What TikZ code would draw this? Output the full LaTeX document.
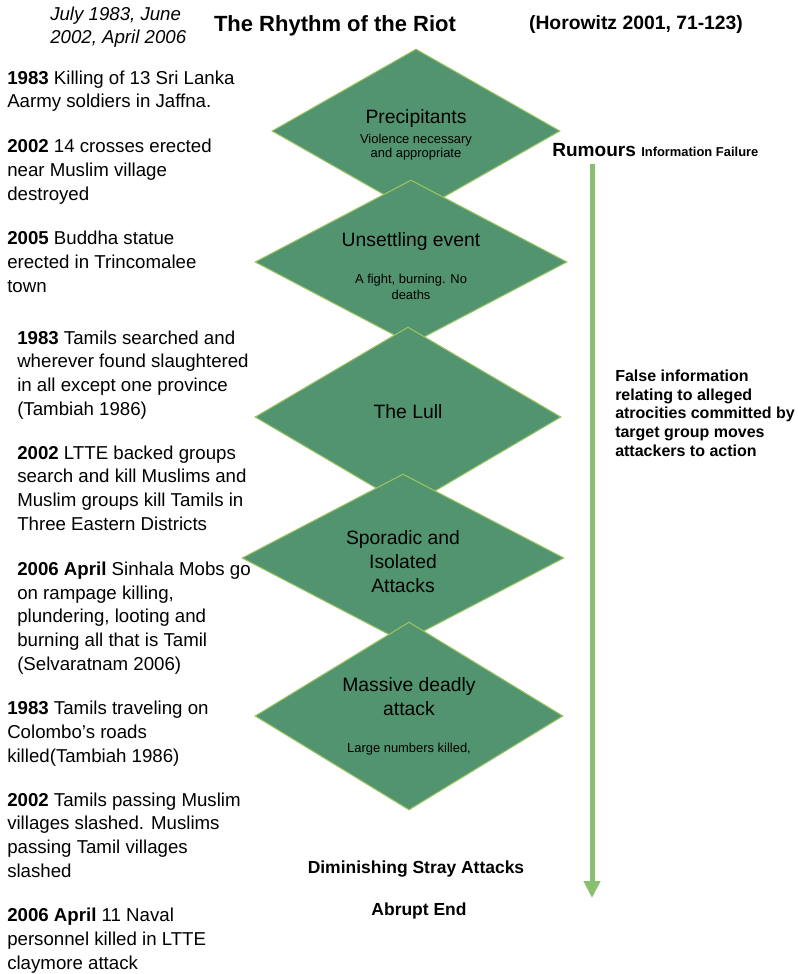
\documentclass[tikz,border=0pt]{standalone}
\usepackage{fontspec}
\setmainfont{Liberation Sans}
\usetikzlibrary{arrows.meta,shapes.geometric}
\definecolor{stagegreen}{RGB}{81,148,111}
\definecolor{stageedge}{RGB}{155,195,100}
\definecolor{flowgreen}{RGB}{137,192,112}
\newcommand{\smalltxt}{\fontsize{9.7}{11.5}\selectfont}
\newcommand{\toppad}{\rule{0pt}{16.5pt}}

\begin{document}
\begin{tikzpicture}[x=0.75pt,y=-0.75pt,
  stage/.style={diamond,draw=stageedge,line width=0.8pt,fill=stagegreen,inner sep=0pt,
    align=center,font=\fontsize{14.5}{18}\selectfont},
  event/.style={anchor=base west,align=left,inner sep=0pt,font=\fontsize{14}{17.7}\selectfont},
  note/.style={anchor=base,inner sep=0pt,font=\bfseries\fontsize{13.1}{15}\selectfont}]
  \useasboundingbox (0,0) rectangle (798,974);
  \node[event,font=\itshape\fontsize{14}{17.7}\selectfont] (dates) at (50,44) {July 1983, June\\2002, April 2006};
  \node[anchor=base,inner sep=0pt,font=\bfseries\fontsize{16.5}{20}\selectfont] (title) at (335,32) {The Rhythm of the Riot};
  \node[anchor=base,inner sep=0pt,font=\bfseries\fontsize{14.5}{18}\selectfont] (source) at (636,30) {(Horowitz 2001, 71-123)};

  \node[stage,aspect=1.76,minimum width=216pt,minimum height=123pt] (prec) at (416,131)
    {\toppad Precipitants\\[-3pt]{\smalltxt Violence necessary}\\[-7pt]{\smalltxt and appropriate}};
  \node[stage,aspect=1.9,minimum width=234pt,minimum height=123pt] (unsettle) at (411,262)
    {\toppad Unsettling event\\[10pt]{\smalltxt A fight, burning. No}\\[-6pt]{\smalltxt deaths}};
  \node[stage,aspect=1.7,minimum width=229.5pt,minimum height=135pt] (lull) at (408,417) {The Lull\rule[-9pt]{0pt}{0pt}};
  \node[stage,aspect=1.92,minimum width=241.5pt,minimum height=126pt] (sporadic) at (403,558)
    {\toppad Sporadic and\\Isolated\\Attacks};
  \node[stage,aspect=1.64,minimum width=231pt,minimum height=141pt] (massive) at (409,716)
    {Massive deadly\\attack\\[10pt]{\smalltxt Large numbers killed,}};

  \node[event] (ev1) at (7,108) {\textbf{1983} Killing of 13 Sri Lanka\\Aarmy soldiers in Jaffna.};
  \node[event] (ev2) at (7,200) {\textbf{2002} 14 crosses erected\\near Muslim village\\destroyed};
  \node[event] (ev3) at (7,292) {\textbf{2005} Buddha statue\\erected in Trincomalee\\town};
  \node[event] (ev4) at (17,415) {\textbf{1983} Tamils searched and\\wherever found slaughtered\\in all except one province\\(Tambiah 1986)};
  \node[event] (ev5) at (17,530) {\textbf{2002} LTTE backed groups\\search and kill Muslims and\\Muslim groups kill Tamils in\\Three Eastern Districts};
  \node[event] (ev6) at (17,670) {\textbf{2006 April} Sinhala Mobs go\\on rampage killing,\\plundering, looting and\\burning all that is Tamil\\(Selvaratnam 2006)};
  \node[event] (ev7) at (7,762) {\textbf{1983} Tamils traveling on\\Colombo’s roads\\killed(Tambiah 1986)};
  \node[event] (ev8) at (7,877) {\textbf{2002} Tamils passing Muslim\\villages slashed. Muslims\\passing Tamil villages\\slashed};
  \node[event] (ev9) at (7,969) {\textbf{2006 April} 11 Naval\\personnel killed in LTTE\\claymore attack};

  \node[anchor=base west,inner sep=0pt,font=\bfseries\fontsize{14.3}{17}\selectfont] (rumours) at (552,156)
    {Rumours {\fontsize{9.7}{11}\selectfont Information Failure}};
  \node[anchor=base west,align=left,inner sep=0pt,font=\bfseries\fontsize{12}{14}\selectfont] (falseinfo) at (615,456)
    {False information\\relating to alleged\\atrocities committed by\\target group moves\\attackers to action};
  \coordinate (flowtop) at (592,164);
  \coordinate (flowend) at (592,898);
  \draw[flowgreen,line width=3.75pt,-{Triangle[width=12pt,length=12.75pt]}] (flowtop) -- (flowend);

  \node[note] (stray) at (416,873) {Diminishing Stray Attacks};
  \node[note] (abrupt) at (419,915) {Abrupt End};
\end{tikzpicture}
\end{document}
